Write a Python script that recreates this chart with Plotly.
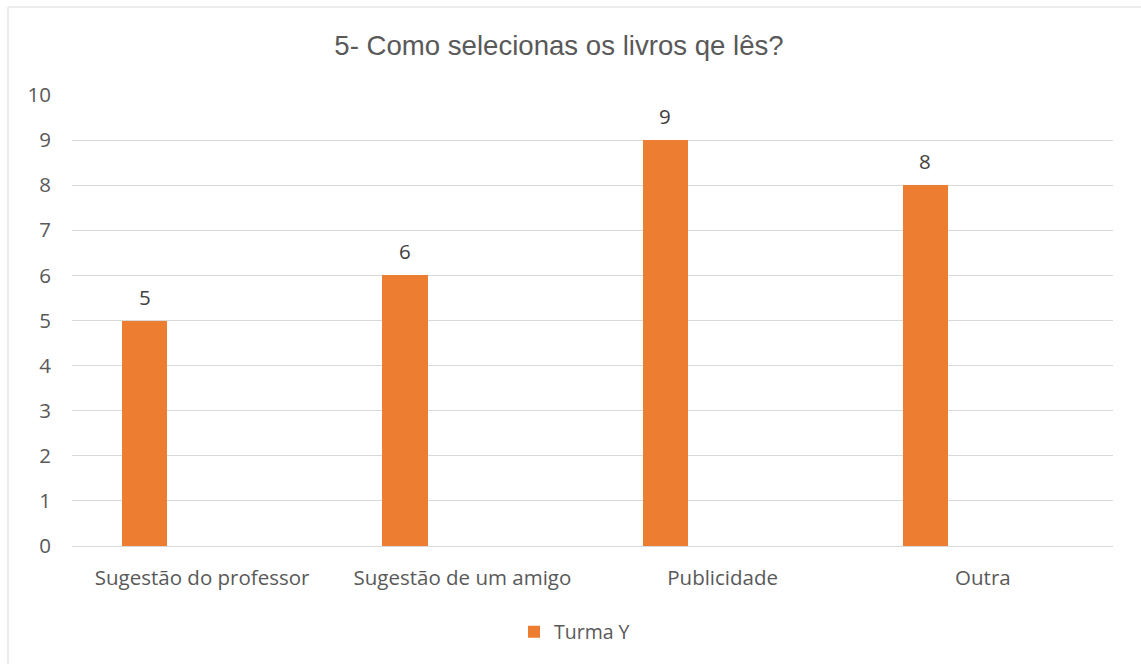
import plotly.graph_objects as go

categories = ["Sugestão do professor", "Sugestão de um amigo", "Publicidade", "Outra"]
values = [5, 6, 9, 8]
series_name = "Turma Y"
y_ticks = [0, 1, 2, 3, 4, 5, 6, 7, 8, 9, 10]

W, H = 1141, 664
L, R, T, B = 72, W - 1113, 95, H - 546
pw, ph = W - L - R, H - T - B

def px_x(p):
    return (p - L) / pw

def px_y(p):
    return (H - B - p) / ph

FONT = "Open Sans, Lato, sans-serif"
OFFSET, BW = -0.307, 0.173

fig = go.Figure()
fig.add_trace(go.Bar(
    x=categories, y=values, name=series_name,
    marker=dict(color="#ED7D31", line=dict(width=0)),
    offset=OFFSET, width=BW,
    showlegend=True,
))

for i, (c, v) in enumerate(zip(categories, values)):
    fig.add_annotation(x=i + OFFSET + BW / 2, y=v, xref="x", yref="y",
                       text=str(v), showarrow=False, yanchor="middle", yshift=24,
                       font=dict(family=FONT, size=20.5, color="#404040"))

fig.update_layout(
    width=W, height=H,
    margin=dict(l=L, r=R, t=T, b=B),
    paper_bgcolor="white", plot_bgcolor="white",
    title=dict(text="5- Como selecionas os livros qe lês?", x=559 / W, xanchor="center",
               y=1 - 45 / H, yanchor="middle",
               font=dict(family="Liberation Sans, Arial, sans-serif", size=27.6, color="#595959")),
    xaxis=dict(showgrid=False, showline=False, ticks="", zeroline=False,
               ticklabelstandoff=17,
               tickfont=dict(family=FONT, size=20.5, color="#595959")),
    yaxis=dict(range=[0, 10], tickvals=y_ticks, showgrid=True, gridcolor="#D9D9D9", gridwidth=1,
               zeroline=True, zerolinecolor="#D9D9D9", zerolinewidth=1, showline=False, ticks="",
               ticklabelstandoff=20,
               tickfont=dict(family=FONT, size=20.5, color="#595959")),
    legend=dict(orientation="h", x=0.5 - 18 / pw, xanchor="center", y=px_y(632), yanchor="middle",
                font=dict(family=FONT, size=19.5, color="#595959")),
    bargap=0.0,
)

fig.add_shape(type="rect", xref="paper", yref="paper",
              x0=px_x(8), x1=px_x(1160), y0=px_y(680), y1=px_y(7),
              line=dict(color="#D9D9D9", width=1), fillcolor="rgba(0,0,0,0)", layer="below")

fig.write_html("out.html")
